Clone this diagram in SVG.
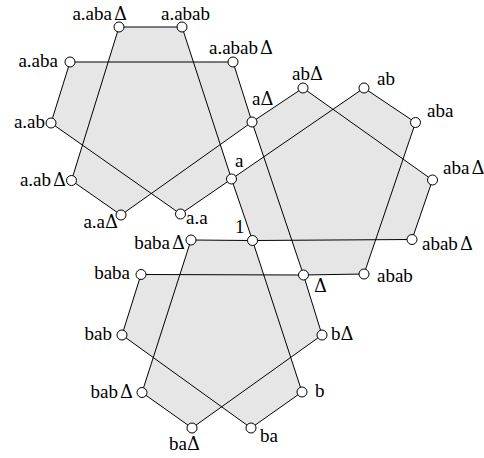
<svg xmlns="http://www.w3.org/2000/svg" width="484" height="458" viewBox="0 0 484 458">
<style>
.sh{fill:#e6e6e6;stroke:none;fill-rule:nonzero}
.e line{stroke:#000;stroke-width:1}
.n circle{fill:#fff;stroke:#000;stroke-width:1}
.n text{font-family:'Liberation Serif','Times New Roman',serif;font-size:19px;fill:#000}
.n .r{text-anchor:end}
.n .d{font-family:'DejaVu Serif',serif;font-size:18px}
</style>
<g id="shading">
<polygon class="sh" points="119,27 182,27 231.5,179 180.5,214 51,123 70,62 233,62 252,122 121,215 71.5,180.5"/>
<polygon class="sh" points="252,122 303,88 432.5,180 412,239.5 252.5,240.5 231.5,179 364,88 415.5,122.5 364,274 303.5,275"/>
<polygon class="sh" points="191,240 252.5,240.5 302,392 251,428 122,335 141,274.5 303.5,275 322,335 192,428 142,392.5"/>
</g>
<g id="connectors" class="e">
<line x1="119" y1="27" x2="182" y2="27"/>
<line x1="182" y1="27" x2="231.5" y2="179"/>
<line x1="231.5" y1="179" x2="180.5" y2="214"/>
<line x1="180.5" y1="214" x2="51" y2="123"/>
<line x1="51" y1="123" x2="70" y2="62"/>
<line x1="70" y1="62" x2="233" y2="62"/>
<line x1="233" y1="62" x2="252" y2="122"/>
<line x1="252" y1="122" x2="121" y2="215"/>
<line x1="121" y1="215" x2="71.5" y2="180.5"/>
<line x1="71.5" y1="180.5" x2="119" y2="27"/>
<line x1="252" y1="122" x2="303" y2="88"/>
<line x1="303" y1="88" x2="432.5" y2="180"/>
<line x1="432.5" y1="180" x2="412" y2="239.5"/>
<line x1="412" y1="239.5" x2="252.5" y2="240.5"/>
<line x1="252.5" y1="240.5" x2="231.5" y2="179"/>
<line x1="231.5" y1="179" x2="364" y2="88"/>
<line x1="364" y1="88" x2="415.5" y2="122.5"/>
<line x1="415.5" y1="122.5" x2="364" y2="274"/>
<line x1="364" y1="274" x2="303.5" y2="275"/>
<line x1="303.5" y1="275" x2="252" y2="122"/>
<line x1="191" y1="240" x2="252.5" y2="240.5"/>
<line x1="252.5" y1="240.5" x2="302" y2="392"/>
<line x1="302" y1="392" x2="251" y2="428"/>
<line x1="251" y1="428" x2="122" y2="335"/>
<line x1="122" y1="335" x2="141" y2="274.5"/>
<line x1="141" y1="274.5" x2="303.5" y2="275"/>
<line x1="303.5" y1="275" x2="322" y2="335"/>
<line x1="322" y1="335" x2="192" y2="428"/>
<line x1="192" y1="428" x2="142" y2="392.5"/>
<line x1="142" y1="392.5" x2="191" y2="240"/>
</g>
<g class="n">
<g id="n-a.abaD"><circle cx="119" cy="27" r="5"/><text class="r" x="127" y="20">a.aba<tspan class="d" dx="2">Δ</tspan></text></g>
<g id="n-a.abab"><circle cx="182" cy="27" r="5"/><text x="161" y="20">a.abab</text></g>
<g id="n-a.ababD"><circle cx="233" cy="62" r="5"/><text x="209" y="54">a.abab<tspan class="d" dx="2">Δ</tspan></text></g>
<g id="n-a.aba"><circle cx="70" cy="62" r="5"/><text class="r" x="58" y="67">a.aba</text></g>
<g id="n-a.ab"><circle cx="51" cy="123" r="5"/><text class="r" x="45" y="128">a.ab</text></g>
<g id="n-a.abD"><circle cx="71.5" cy="180.5" r="5"/><text class="r" x="66" y="186">a.ab<tspan class="d" dx="2">Δ</tspan></text></g>
<g id="n-a.aD"><circle cx="121" cy="215" r="5"/><text class="r" x="118" y="228">a.a<tspan class="d">Δ</tspan></text></g>
<g id="n-a.a"><circle cx="180.5" cy="214" r="5"/><text x="186" y="224">a.a</text></g>
<g id="n-a"><circle cx="231.5" cy="179" r="5"/><text x="235" y="167">a</text></g>
<g id="n-aD"><circle cx="252" cy="122" r="5"/><text x="252" y="105">a<tspan class="d">Δ</tspan></text></g>
<g id="n-abD"><circle cx="303" cy="88" r="5"/><text x="292" y="80">ab<tspan class="d">Δ</tspan></text></g>
<g id="n-ab"><circle cx="364" cy="88" r="5"/><text x="377" y="85">ab</text></g>
<g id="n-aba"><circle cx="415.5" cy="122.5" r="5"/><text x="427" y="117">aba</text></g>
<g id="n-abaD"><circle cx="432.5" cy="180" r="5"/><text x="443" y="174">aba<tspan class="d" dx="2">Δ</tspan></text></g>
<g id="n-ababD"><circle cx="412" cy="239.5" r="5"/><text x="422" y="250">abab<tspan class="d" dx="2">Δ</tspan></text></g>
<g id="n-abab"><circle cx="364" cy="274" r="5"/><text x="377" y="282">abab</text></g>
<g id="n-D"><circle cx="303.5" cy="275" r="5"/><text class="d" x="314" y="292">Δ</text></g>
<g id="n-1"><circle cx="252.5" cy="240.5" r="5"/><text x="235" y="233">1</text></g>
<g id="n-babaD"><circle cx="191" cy="240" r="5"/><text class="r" x="185" y="249">baba<tspan class="d" dx="2">Δ</tspan></text></g>
<g id="n-baba"><circle cx="141" cy="274.5" r="5"/><text class="r" x="130" y="279">baba</text></g>
<g id="n-bab"><circle cx="122" cy="335" r="5"/><text class="r" x="112" y="340">bab</text></g>
<g id="n-bD"><circle cx="322" cy="335" r="5"/><text x="331" y="340">b<tspan class="d">Δ</tspan></text></g>
<g id="n-babD"><circle cx="142" cy="392.5" r="5"/><text class="r" x="133" y="398">bab<tspan class="d" dx="2">Δ</tspan></text></g>
<g id="n-b"><circle cx="302" cy="392" r="5"/><text x="315" y="397">b</text></g>
<g id="n-baD"><circle cx="192" cy="428" r="5"/><text class="r" x="200" y="450">ba<tspan class="d">Δ</tspan></text></g>
<g id="n-ba"><circle cx="251" cy="428" r="5"/><text x="260" y="442">ba</text></g>
</g>
</svg>
